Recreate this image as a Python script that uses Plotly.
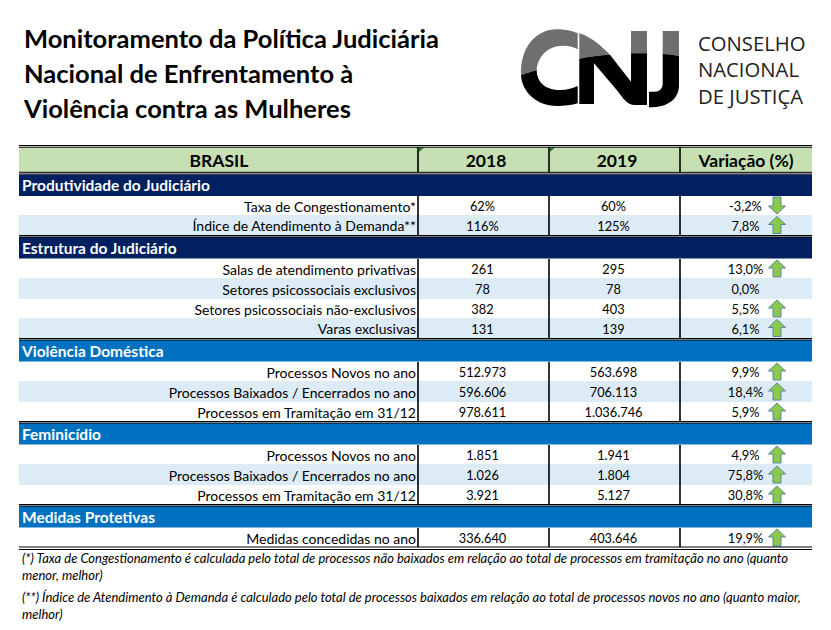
"""Monitoring table drawn with Plotly graph objects."""

from __future__ import annotations

import plotly.graph_objects as go


FONT = "Lato"
NAVY = "#002060"
BLUE = "#0070C0"
GREEN = "#C6E0B4"
STRIPE = "#DDEBF7"

TITLE_LINES = [
    "Monitoramento da Política Judiciária",
    "Nacional de Enfrentamento à",
    "Violência contra as Mulheres",
]
LOGO_LINES = ["CONSELHO", "NACIONAL", "DE JUSTIÇA"]
HEADERS = ["BRASIL", "2018", "2019", "Variação (%)"]

SECTIONS = [
    "Produtividade do Judiciário",
    "Estrutura do Judiciário",
    "Violência Doméstica",
    "Feminicídio",
    "Medidas Protetivas",
]
SECTION_SIZES = [2, 4, 3, 3, 1]

LABELS = [
    "Taxa de Congestionamento*",
    "Índice de Atendimento à Demanda**",
    "Salas de atendimento privativas",
    "Setores psicossociais exclusivos",
    "Setores psicossociais não-exclusivos",
    "Varas exclusivas",
    "Processos Novos no ano",
    "Processos Baixados / Encerrados no ano",
    "Processos em Tramitação em 31/12",
    "Processos Novos no ano",
    "Processos Baixados / Encerrados no ano",
    "Processos em Tramitação em 31/12",
    "Medidas concedidas no ano",
]
VALUES_2018 = ["62%", "116%", "261", "78", "382", "131", "512.973", "596.606",
               "978.611", "1.851", "1.026", "3.921", "336.640"]
VALUES_2019 = ["60%", "125%", "295", "78", "403", "139", "563.698", "706.113",
               "1.036.746", "1.941", "1.804", "5.127", "403.646"]
VARIATION = ["-3,2%", "7,8%", "13,0%", "0,0%", "5,5%", "6,1%", "9,9%", "18,4%",
             "5,9%", "4,9%", "75,8%", "30,8%", "19,9%"]
DIRECTION = [-1, 1, 1, 0, 1, 1, 1, 1, 1, 1, 1, 1, 1]

FOOTNOTES = [
    "<i>(*) Taxa de Congestionamento é calculada pelo total de processos não baixados em relação ao total de processos em tramitação no ano (quanto</i>",
    "<i>menor, melhor)</i>",
    "<i>(**) Índice de Atendimento à Demanda é calculado pelo total de processos baixados em relação ao total de processos novos no ano (quanto maior,</i>",
    "<i>melhor)</i>",
]

X0, X1 = 19, 812
COLUMNS = [418, 549, 680]
SECTION_TOPS = [174.5, 237, 340, 423, 506]
SECTION_HEIGHT = 21.5
ROW_BOUNDS = [
    [196, 215, 235],
    [259, 278, 299, 318, 338],
    [362, 381, 402, 421],
    [445, 464, 485, 504],
    [528, 547],
]

LOGO_GRAY = [
    "M 33 165 C 30 80 80 28 140 28 C 165 28 185 32 203 40 L 203 88 C 190 80 170 76 150 78 C 110 80 82 115 80 150 Z",
    "M 208 40 C 245 50 275 80 300 104 C 270 106 235 110 208 116 Z",
    "M 363 33 L 411 33 L 411 100 L 363 100 Z",
    "M 458 33 L 507 33 L 507 108 C 490 104 475 102 458 102 Z",
]
LOGO_BLACK = [
    "M 33 165 L 80 150 C 80 190 110 210 150 210 C 170 210 190 205 203 198 L 203 250 C 185 255 165 258 140 258 C 80 258 35 215 33 165 Z",
    "M 208 116 C 235 110 270 106 300 104 L 363 185 L 363 100 L 411 100 L 411 255 L 375 255 C 350 255 340 235 320 210 L 252 130 L 252 252 L 208 252 Z",
    "M 458 102 C 475 102 490 104 507 108 L 507 195 C 507 240 470 262 420 262 L 417 262 L 417 215 L 435 215 C 450 215 458 205 458 190 Z",
]


def add_text(fig: go.Figure, x, y, text, *, size: float, position: str, color: str = "black", family: str = FONT) -> None:
    """Add a batch of text labels at pixel positions."""

    fig.add_trace(
        go.Scatter(
            x=x,
            y=y,
            text=text,
            mode="text",
            textposition=position,
            textfont=dict(family=family, size=size, color=color),
            hoverinfo="skip",
        )
    )


def add_rect(fig: go.Figure, x0, y0, x1, y1, color: str) -> None:
    """Fill a band without an outline."""

    fig.add_shape(type="rect", x0=x0, y0=y0, x1=x1, y1=y1, fillcolor=color, line_width=0, layer="below")


def add_rule(fig: go.Figure, x0, y0, x1, y1, width: float = 1.3) -> None:
    """Draw a black table rule."""

    fig.add_shape(type="line", x0=x0, y0=y0, x1=x1, y1=y1, line=dict(color="black", width=width))


def add_arrow(fig: go.Figure, cx: float, cy: float, direction: int) -> None:
    """Block arrow, up or down, as the spreadsheet icon set draws it."""

    s = -direction
    path = (
        f"M {cx} {cy + s * 8.5} L {cx + 8.5} {cy + s * 0.5} L {cx + 4} {cy + s * 0.5} "
        f"L {cx + 4} {cy - s * 8.5} L {cx - 4} {cy - s * 8.5} L {cx - 4} {cy + s * 0.5} "
        f"L {cx - 8.5} {cy + s * 0.5} Z"
    )
    fig.add_shape(type="path", path=path, fillcolor="#8CC84B", line=dict(color="#5A86A8", width=1))


def logo_path(path: str) -> str:
    """Move a path from logo crop units to page pixels."""

    out, is_x = [], True
    for token in path.split():
        if token.isalpha():
            out.append(token)
        else:
            out.append(f"{(510 if is_x else 20) + float(token) / 3:.1f}")
            is_x = not is_x
    return " ".join(out)


def build_figure() -> go.Figure:
    """Create the whole table page."""

    fig = go.Figure()

    # title and logo
    add_text(fig, [24] * 3, [42, 77, 112], [f"<b>{t}</b>" for t in TITLE_LINES], size=25.5, position="middle right")
    for path in LOGO_GRAY:
        fig.add_shape(type="path", path=logo_path(path), fillcolor="#6F6F6F", line_width=0)
    for path in LOGO_BLACK:
        fig.add_shape(type="path", path=logo_path(path), fillcolor="black", line_width=0)
    add_text(fig, [698] * 3, [46, 72, 99], LOGO_LINES, size=20.3, position="middle right", color="#222222", family="Open Sans")

    # header
    add_rect(fig, X0, 147, X1, 172, GREEN)
    add_text(fig, [219, 486, 617, 746], [163] * 4, [f"<b>{h}</b>" for h in HEADERS], size=17.5, position="middle center")
    for x in COLUMNS[:2]:
        fig.add_shape(
            type="path",
            path=f"M {x + 1} 147.5 L {x + 6} 147.5 L {x + 1} 152 Z",
            fillcolor="#1E7B34",
            line_width=0,
        )

    # sections and rows
    k = 0
    for s, title in enumerate(SECTIONS):
        top = SECTION_TOPS[s]
        add_rect(fig, X0, top, X1, top + SECTION_HEIGHT, NAVY if s < 2 else BLUE)
        add_text(fig, [22], [top + 13], [f"<b>{title}</b>"], size=15.5, position="middle right", color="white")
        bounds = ROW_BOUNDS[s]
        for r in range(SECTION_SIZES[s]):
            y0, y1 = bounds[r], bounds[r + 1]
            mid = (y0 + y1) / 2
            if r % 2 == 1:
                add_rect(fig, X0, y0, X1, y1, STRIPE)
            add_text(fig, [416], [mid + 2.5], [LABELS[k]], size=14, position="middle left")
            add_text(
                fig,
                [482.5, 613.5, 745.5],
                [mid + 2.5] * 3,
                [VALUES_2018[k], VALUES_2019[k], VARIATION[k]],
                size=12.8,
                position="middle center",
            )
            if DIRECTION[k]:
                add_arrow(fig, 777, mid, DIRECTION[k])
            k += 1
        for x in COLUMNS:
            add_rule(fig, x, bounds[0], x, bounds[-1], 1.6)

    # rules
    for x in COLUMNS:
        add_rule(fig, x, 147, x, 172, 1.6)
    for y in [145.5, 147.2, 172.3, 174, 235.5, 237, 338.5, 340, 421.5, 423, 504.5, 506, 547, 549.5]:
        add_rule(fig, X0, y, X1, y, 1)

    # footnotes
    add_text(fig, [22] * 4, [560, 577, 599, 616], FOOTNOTES, size=13, position="middle right")

    fig.update_layout(
        width=823,
        height=622,
        margin=dict(l=0, r=0, t=0, b=0),
        paper_bgcolor="white",
        plot_bgcolor="white",
        showlegend=False,
    )
    fig.update_xaxes(visible=False, range=[8, 831])
    fig.update_yaxes(visible=False, range=[630, 8])
    return fig


fig = build_figure()
fig.write_html("out.html")
